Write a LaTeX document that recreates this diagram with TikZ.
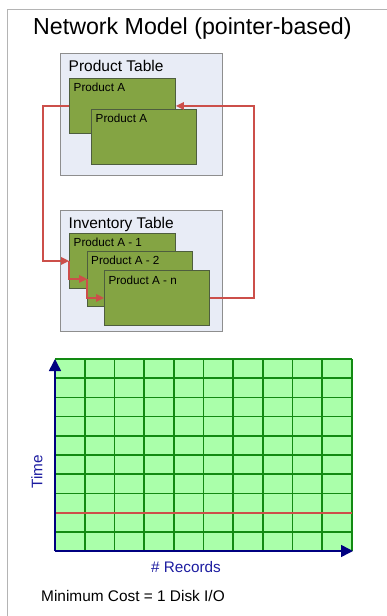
\documentclass[tikz,border=0pt]{standalone}
\usepackage{fontspec}
\setmainfont{Liberation Sans}
\usetikzlibrary{arrows.meta}
\definecolor{tblfill}{HTML}{E8ECF6}
\definecolor{tbldraw}{HTML}{8E8E8E}
\definecolor{recfill}{HTML}{84A443}
\definecolor{recdraw}{HTML}{4E5E3E}
\definecolor{ptr}{HTML}{CC4F4A}
\definecolor{cellfill}{HTML}{AAFFAA}
\definecolor{cellline}{HTML}{128A12}
\definecolor{axiscol}{HTML}{000080}
\definecolor{axistext}{HTML}{1C1CA0}
\definecolor{framecol}{HTML}{B4B4B4}
\begin{document}
\begin{tikzpicture}[x=1pt,y=-1pt,
  tblbox/.style={draw=tbldraw, fill=tblfill, line width=1pt, anchor=north west, inner sep=0pt, minimum width=162pt, minimum height=122pt},
  recbox/.style={draw=recdraw, fill=recfill, line width=0.9pt, anchor=north west, inner sep=0pt, minimum width=105pt, minimum height=55pt},
  tbllbl/.style={anchor=base west, inner sep=0pt, font=\fontsize{15.5}{18}\selectfont},
  reclbl/.style={anchor=base west, inner sep=0pt, font=\fontsize{11.7}{14}\selectfont},
  ptrline/.style={draw=ptr, line width=1.6pt, -{Triangle[length=8pt,width=7.5pt]}},
  axisline/.style={draw=axiscol, line width=1.5pt, -{Triangle[length=12pt,width=12pt]}},
  axlbl/.style={inner sep=0pt, text=axistext, font=\fontsize{15.3}{18}\selectfont}]
\useasboundingbox (0,0) rectangle (387,616);
% frame
\draw[framecol, line width=1pt] (7,616) -- (7,9) -- (387,9);
% title
\node[anchor=base west, inner sep=0pt, font=\fontsize{23.2}{26}\selectfont] (title) at (33,34.5) {Network Model (pointer-based)};
% product table
\node[tblbox] (ptab) at (60,53) {};
\node[tbllbl] (ptablbl) at (68.5,71.5) {Product Table};
\node[recbox, minimum width=106pt] (pA1) at (69,78) {};
\node[reclbl] (pA1lbl) at (73.5,91.5) {Product A};
\node[recbox] (pA2) at (91,109) {};
\node[reclbl] (pA2lbl) at (95.5,122.5) {Product A};
% inventory table
\node[tblbox, minimum height=121pt] (itab) at (60,210) {};
\node[tbllbl] (itablbl) at (68.5,228) {Inventory Table};
\node[recbox, minimum width=106pt] (i1) at (69,233) {};
\node[reclbl] (i1lbl) at (73.5,246.5) {Product A - 1};
\node[recbox] (i2) at (87,251) {};
\node[reclbl] (i2lbl) at (91,264.5) {Product A - 2};
\node[recbox] (i3) at (104,270) {};
\node[reclbl] (i3lbl) at (108.3,284.3) {Product A - n};
% pointers
\draw[ptrline] (pA1.west) -- ++(-26,0) |- (i1.west);
\draw[ptrline] (i1.west) |- (i2.west);
\draw[ptrline] (i2.west) |- (i3.west);
\draw[ptrline] (i3.east) -- ++(44,0) |- (pA1.east);
% grid
\fill[cellfill] (55,359) rectangle (352,551);
\foreach \i in {1,...,10} {
  \draw[cellline, line width=1.7pt] (55+\i*29.7,359) -- (55+\i*29.7,551);
}
\foreach \j in {0,...,9} {
  \draw[cellline, line width=1.7pt] (55,359+\j*19.2) -- (352,359+\j*19.2);
}
\draw[ptr, line width=1.8pt] (55,512.6) -- (352,512.6);
% axes
\coordinate (O) at (55,551);
\coordinate (Ytop) at (55,359);
\coordinate (Xend) at (353,551);
\draw[axisline] (O) -- (Ytop);
\draw[axisline] (O) -- (Xend);
\node[axlbl, rotate=90] (tlbl) at (37,472) {Time};
\node[axlbl, anchor=base] (rlbl) at (186,572.5) {\# Records};
\node[anchor=base west, inner sep=0pt, font=\fontsize{15.4}{18}\selectfont] (cost) at (41,601.5) {Minimum Cost = 1 Disk I/O};
\end{tikzpicture}
\end{document}
